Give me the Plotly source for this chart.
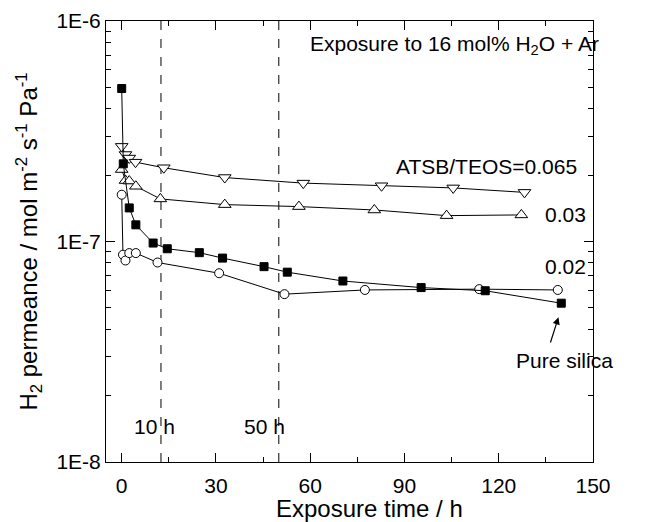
import plotly.graph_objects as go

# Pure silica (filled squares)
t_silica = [0, 0.5, 2.4, 4.5, 10.0, 14.5, 24.7, 32.1, 45.3, 52.7, 70.4, 95.3, 115.7, 139.9]
p_silica = [4.94e-7, 2.25e-7, 1.42e-7, 1.19e-7, 9.84e-8, 9.27e-8, 8.9e-8, 8.41e-8,
            7.69e-8, 7.26e-8, 6.62e-8, 6.18e-8, 5.98e-8, 5.25e-8]

# ATSB/TEOS = 0.065 (open down triangles)
t_065 = [0, 1.2, 2.4, 4.4, 13.4, 32.8, 57.8, 82.7, 105.5, 128.2]
p_065 = [2.70e-7, 2.48e-7, 2.39e-7, 2.29e-7, 2.16e-7, 1.95e-7, 1.84e-7, 1.79e-7, 1.75e-7, 1.67e-7]

# ATSB/TEOS = 0.03 (open up triangles)
t_03 = [0, 1.2, 2.4, 4.5, 12.3, 32.8, 56.4, 80.4, 103.4, 127.2]
p_03 = [2.12e-7, 1.89e-7, 1.88e-7, 1.78e-7, 1.56e-7, 1.47e-7, 1.44e-7, 1.39e-7, 1.31e-7, 1.32e-7]

# ATSB/TEOS = 0.02 (open circles)
t_02 = [0, 0.4, 1.2, 2.4, 4.5, 11.4, 31.0, 51.8, 77.4, 113.8, 138.8]
p_02 = [1.63e-7, 8.71e-8, 8.2e-8, 8.86e-8, 8.86e-8, 8.03e-8, 7.18e-8, 5.77e-8, 6.03e-8, 6.08e-8, 6.03e-8]

x_ticks = [0, 30, 60, 90, 120, 150]
y_tickvals = [1e-8, 1e-7, 1e-6]
y_ticktext = ["1E-8", "1E-7", "1E-6"]
marker_lines = [12.5, 50]

FONT = "Liberation Sans, Arial, sans-serif"
FS = 21

fig = go.Figure()

def add(t, p, symbol, fill, size):
    fig.add_trace(go.Scatter(
        x=t, y=p, mode="lines+markers",
        line=dict(color="black", width=1),
        marker=dict(symbol=symbol, size=size, color=fill,
                    line=dict(color="black", width=1)),
        showlegend=False))

add(t_02, p_02, "circle", "white", 9)
add(t_03, p_03, "triangle-up", "white", 11)
add(t_065, p_065, "triangle-down", "white", 11)
add(t_silica, p_silica, "square", "black", 8)

for xv in marker_lines:
    fig.add_shape(type="line", x0=xv, x1=xv, y0=0, y1=1, xref="x", yref="paper",
                  line=dict(color="black", width=1, dash="dash"), layer="below")

ann_font = dict(family=FONT, size=FS, color="black")
fig.add_annotation(x=105.9, y=-6.11, text="Exposure to 16 mol% H<sub>2</sub>O + Ar",
                   showarrow=False, font=ann_font, xanchor="center", yanchor="middle")
fig.add_annotation(x=145.5, y=-6.659, text="ATSB/TEOS=0.065",
                   showarrow=False, font=ann_font, xanchor="right", yanchor="middle")
fig.add_annotation(x=148.5, y=-6.879, text="0.03",
                   showarrow=False, font=ann_font, xanchor="right", yanchor="middle")
fig.add_annotation(x=148.5, y=-7.114, text="0.02",
                   showarrow=False, font=ann_font, xanchor="right", yanchor="middle")
fig.add_annotation(x=141.0, y=-7.54, text="Pure silica",
                   showarrow=False, font=ann_font, xanchor="center", yanchor="middle")
fig.add_annotation(x=10.4, y=-7.841, text="10 h",
                   showarrow=False, font=ann_font, xanchor="center", yanchor="middle")
fig.add_annotation(x=45.4, y=-7.841, text="50 h",
                   showarrow=False, font=ann_font, xanchor="center", yanchor="middle")
fig.add_annotation(x=139.0, y=-7.344, ax=136.3, ay=-7.465, axref="x", ayref="y",
                   text="", showarrow=True, arrowhead=2, arrowsize=1.2, arrowwidth=1.2,
                   arrowcolor="black")

# axis titles as annotations (paper coordinates)
fig.add_annotation(x=0.542, y=-0.106, xref="paper", yref="paper",
                   text="Exposure time / h", showarrow=False,
                   font=dict(family=FONT, size=24, color="black"),
                   xanchor="center", yanchor="middle")
fig.add_annotation(x=-0.160, y=0.50, xref="paper", yref="paper", textangle=-90,
                   text="H<sub>2</sub> permeance / mol m<sup>-2</sup> s<sup>-1</sup> Pa<sup>-1</sup>",
                   showarrow=False, font=dict(family=FONT, size=24, color="black"),
                   xanchor="center", yanchor="middle")

fig.update_layout(
    width=670, height=522,
    margin=dict(l=106, r=77, t=21, b=60),
    plot_bgcolor="white", paper_bgcolor="white",
    font=dict(family=FONT, size=FS, color="black"),
    xaxis=dict(
        range=[-5, 150], tickvals=x_ticks, ticks="inside", ticklen=9, tickwidth=1,
        tickcolor="black", showline=True, linecolor="black", linewidth=1,
        mirror="ticks", showgrid=False, zeroline=False, automargin=False,
        minor=dict(dtick=15, ticks="inside", ticklen=5, tickcolor="black", showgrid=False),
        ticklabelstandoff=5,
    ),
    yaxis=dict(
        type="log", range=[-8, -6], tickvals=y_tickvals, ticktext=y_ticktext,
        ticks="inside", ticklen=9, tickwidth=1, tickcolor="black",
        showline=True, linecolor="black", linewidth=1, mirror="ticks",
        showgrid=False, zeroline=False, automargin=False,
        minor=dict(dtick="D1", ticks="inside", ticklen=5, tickcolor="black", showgrid=False),
    ),
)

fig.write_html("out.html", config={"displayModeBar": False},
               post_script="document.body.style.margin='0px';document.body.style.overflow='hidden';")
